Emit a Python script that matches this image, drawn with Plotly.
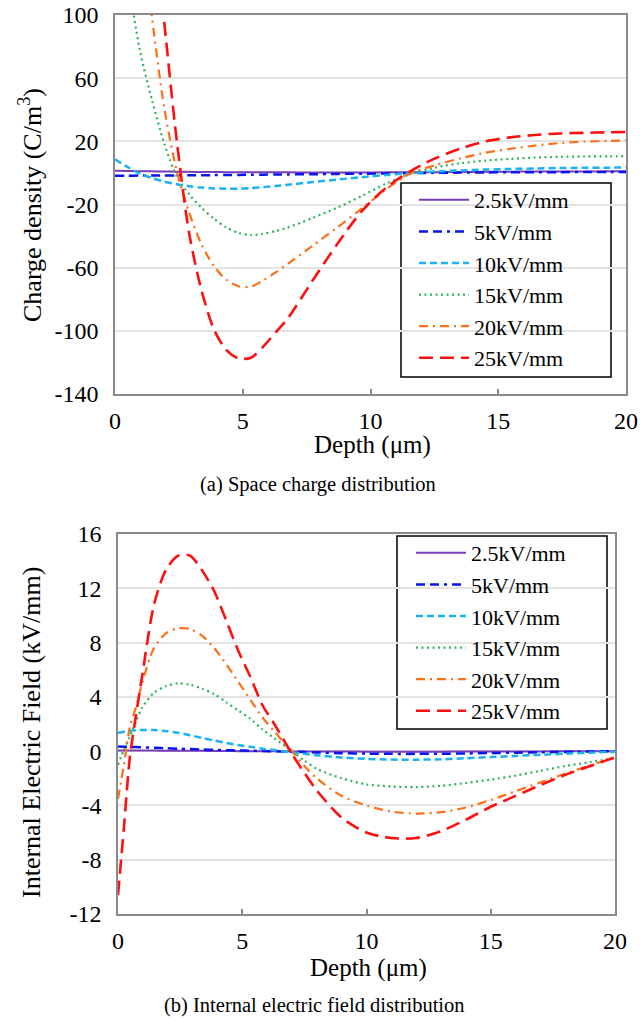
import plotly.graph_objects as go

# ---------------- data ----------------
depth_top = [0, 0.48, 0.97, 1.45, 1.93, 2.42, 2.9, 3.38, 3.87, 4.35, 4.84, 5.32, 5.8, 6.29, 6.77,
             7.74, 8.7, 9.67, 10.64, 11.6, 12.57, 13.54, 14.5, 15.47, 16.44, 17.4, 18.37, 19.34, 20]
rho_2_5 = [1.3, 1.2, 1.1, 1.0, 0.9, 0.8, 0.7, 0.6, 0.55, 0.5, 0.45, 0.4, 0.4, 0.35, 0.35,
           0.3, 0.3, 0.3, 0.35, 0.4, 0.5, 0.6, 0.7, 0.8, 0.85, 0.9, 0.95, 1.0, 1.0]
rho_5 = [-1.8, -1.75, -1.7, -1.65, -1.6, -1.55, -1.5, -1.45, -1.4, -1.3, -1.25, -1.2, -1.1, -1.0, -0.95,
         -0.8, -0.65, -0.5, -0.3, -0.1, 0.1, 0.2, 0.3, 0.4, 0.45, 0.5, 0.55, 0.6, 0.62]
rho_10 = [8.6, 3.8, -0.3, -3.3, -5.5, -7.2, -8.4, -9.3, -9.8, -10.0, -10.0, -9.6, -9.0, -8.3, -7.5,
          -5.8, -4.2, -2.7, -1.3, -0.1, 0.9, 1.6, 2.1, 2.5, 2.8, 3.1, 3.25, 3.35, 3.4]
rho_15 = [200, 128, 78, 46, 18.5, -2.5, -13.5, -22, -29, -34.5, -38, -39.3, -38.5, -36.8, -34.5,
          -28.5, -22, -14.5, -6.5, -0.5, 3.5, 6.2, 7.8, 8.9, 9.7, 10.2, 10.4, 10.5, 10.6]
rho_20 = [330, 240, 165, 98, 41, 1, -25, -45, -59, -67.5, -71.8, -72, -68, -63, -57.5,
          -46, -34.5, -22.5, -10, 0, 5, 9.3, 12.8, 15.3, 17.3, 18.9, 19.8, 20.3, 20.6]
rho_25 = [520, 390, 270, 170, 95, 20, -38, -74, -99, -112, -117.5, -117, -110, -101, -92,
          -68, -45, -24, -9, 1.5, 9.5, 15.5, 20, 22.5, 24, 25, 25.4, 25.7, 25.9]

depth_bot = [0, 0.24, 0.48, 0.73, 0.97, 1.45, 1.94, 2.42, 2.9, 3.39, 3.87, 4.36, 4.84, 5.32, 5.81,
             6.29, 7, 7.5, 8, 9, 10, 11, 12, 13, 14, 15, 16, 17, 18, 19, 20]
E_2_5 = [0.05, 0.05, 0.05, 0.04, 0.04, 0.04, 0.03, 0.03, 0.02, 0.02, 0.01, 0.01, 0.0, 0.0, -0.01,
         -0.01, -0.02, -0.02, -0.03, -0.03, -0.04, -0.04, -0.04, -0.04, -0.03, -0.03, -0.02,
         -0.02, -0.01, -0.01, 0.0]
E_5 = [0.35, 0.33, 0.31, 0.3, 0.28, 0.25, 0.21, 0.18, 0.15, 0.12, 0.1, 0.07, 0.05, 0.03, 0.01,
       -0.01, -0.04, -0.07, -0.1, -0.15, -0.18, -0.2, -0.2, -0.19, -0.17, -0.14, -0.11, -0.08,
       -0.06, -0.03, -0.01]
E_10 = [1.35, 1.43, 1.5, 1.54, 1.56, 1.55, 1.48, 1.35, 1.17, 0.97, 0.78, 0.6, 0.45, 0.32, 0.18,
        0.08, -0.1, -0.2, -0.3, -0.47, -0.57, -0.62, -0.63, -0.6, -0.52, -0.44, -0.35, -0.27,
        -0.19, -0.11, -0.05]
E_15 = [-1.0, 0.1, 1.1, 2.2, 3.2, 4.3, 4.8, 5.0, 4.9, 4.6, 4.2, 3.6, 3.0, 2.4, 1.6, 0.95, 0.0,
        -0.7, -1.3, -2.0, -2.45, -2.6, -2.65, -2.55, -2.35, -2.1, -1.8, -1.45, -1.1, -0.8, -0.5]
E_20 = [-3.5, -1.0, 1.8, 3.3, 5.0, 7.6, 8.7, 9.05, 9.0, 8.5, 7.6, 6.4, 5.1, 3.8, 2.5, 1.45, 0.0,
        -1.1, -2.0, -3.3, -4.0, -4.45, -4.6, -4.5, -4.15, -3.6, -2.95, -2.3, -1.65, -1.05, -0.45]
E_25 = [-10.6, -5.6, -0.4, 2.7, 5.5, 10.8, 13.4, 14.4, 14.4, 13.3, 11.8, 9.6, 7.4, 5.5, 3.4, 2.0,
        -0.2, -1.6, -2.9, -4.9, -6.0, -6.4, -6.4, -5.9, -5.05, -4.1, -3.3, -2.5, -1.75, -1.1, -0.45]

series_names = ["2.5kV/mm", "5kV/mm", "10kV/mm", "15kV/mm", "20kV/mm", "25kV/mm"]
x_ticks = [0, 5, 10, 15, 20]
y_ticks_top = [-140, -100, -60, -20, 20, 60, 100]
y_ticks_bot = [-12, -8, -4, 0, 4, 8, 12, 16]

# ---------------- styling ----------------
W, H = 643, 1021
FONT = "Liberation Serif, Times New Roman, serif"
colors = ["#7A3DB8", "#0A14F0", "#1AB2F0", "#2EB35C", "#FF6F1A", "#FF1010"]
dashes = ["solid", "9px,5px,9px,5px,3px,5px", "7px,4px", "2px,3.5px",
          "9px,5px,2px,5px", "14px,7px"]
widths = [2, 2.5, 2.5, 2.2, 2.2, 2.6]


def px_x(p):
    return p / W


def px_y(p):
    return 1 - p / H


fig = go.Figure()
top_vals = [rho_2_5, rho_5, rho_10, rho_15, rho_20, rho_25]
bot_vals = [E_2_5, E_5, E_10, E_15, E_20, E_25]
for i, name in enumerate(series_names):
    fig.add_trace(go.Scatter(
        x=depth_top, y=top_vals[i], name=name, mode="lines",
        line=dict(color=colors[i], dash=dashes[i], width=widths[i], shape="spline", smoothing=0.8),
        xaxis="x", yaxis="y", legend="legend"))
for i, name in enumerate(series_names):
    fig.add_trace(go.Scatter(
        x=depth_bot, y=bot_vals[i], name=name, mode="lines",
        line=dict(color=colors[i], dash=dashes[i], width=widths[i], shape="spline", smoothing=0.8),
        xaxis="x2", yaxis="y2", legend="legend2"))

base_axis = dict(showline=True, linecolor="#8a8a8a", linewidth=1.5, mirror=True,
                 tickcolor="#8a8a8a", tickwidth=1.5, automargin=False, ticklabeloverflow="allow",
                 tickfont=dict(family=FONT, size=24, color="black"), zeroline=False)
xaxis_style = dict(base_axis, ticks="inside", ticklen=5, showgrid=False, ticklabelstandoff=4)
yaxis_style = dict(base_axis, ticks="", showgrid=True, gridcolor="#e3e3e3", gridwidth=1.5,
                   ticklabelstandoff=10)

top_dom_x = [px_x(115), px_x(626)]
top_dom_y = [px_y(394), px_y(15)]
bot_dom_x = [px_x(118), px_x(615)]
bot_dom_y = [px_y(914), px_y(534)]

legend_style = dict(xanchor="left", yanchor="top", bgcolor="rgba(0,0,0,0)", borderwidth=0,
                    itemwidth=50, font=dict(family=FONT, size=22, color="black"))

fig.update_layout(
    width=W, height=H, margin=dict(l=0, r=0, t=0, b=0, autoexpand=False),
    paper_bgcolor="white", plot_bgcolor="white",
    font=dict(family=FONT, color="black"),
    xaxis=dict(xaxis_style, domain=top_dom_x, anchor="y", range=[0, 20], tickvals=x_ticks,
               ticktext=[str(v) for v in x_ticks]),
    yaxis=dict(yaxis_style, domain=top_dom_y, anchor="x", range=[-140, 100], tickvals=y_ticks_top,
               ticktext=[str(v) for v in y_ticks_top]),
    xaxis2=dict(xaxis_style, domain=bot_dom_x, anchor="y2", range=[0, 20], tickvals=x_ticks,
                ticktext=[str(v) for v in x_ticks]),
    yaxis2=dict(yaxis_style, domain=bot_dom_y, anchor="x2", range=[-12, 16], tickvals=y_ticks_bot,
                ticktext=[str(v) for v in y_ticks_bot]),
    legend=dict(legend_style, x=px_x(414), y=px_y(179)),
    legend2=dict(legend_style, x=px_x(411), y=px_y(532)),
    showlegend=True,
)

# legend frames
fig.add_shape(type="rect", xref="paper", yref="paper",
              x0=px_x(401), x1=px_x(611), y0=px_y(377), y1=px_y(183),
              line=dict(color="black", width=1.5), fillcolor="white", layer="below")
fig.add_shape(type="rect", xref="paper", yref="paper",
              x0=px_x(397), x1=px_x(607), y0=px_y(729), y1=px_y(536),
              line=dict(color="black", width=1.5), fillcolor="white", layer="below")

# axis titles and captions
ann = dict(xref="paper", yref="paper", showarrow=False, xanchor="center", yanchor="middle",
           font=dict(family=FONT, size=26, color="black"))
fig.add_annotation(text="Charge density (C/m<sup>3</sup>)", x=px_x(31), y=px_y(205), textangle=-90, **ann)
fig.add_annotation(text="Internal Electric Field (kV/mm)", x=px_x(31), y=px_y(733), textangle=-90, **ann)
xt = dict(ann)
xt["font"] = dict(family=FONT, size=25, color="black")
fig.add_annotation(text="Depth (μm)", x=px_x(372), y=px_y(445), **xt)
fig.add_annotation(text="Depth (μm)", x=px_x(368), y=px_y(968), **xt)
cap = dict(ann)
cap["font"] = dict(family=FONT, size=20.5, color="black")
fig.add_annotation(text="(a) Space charge distribution", x=px_x(318), y=px_y(484), **cap)
fig.add_annotation(text="(b) Internal electric field distribution", x=px_x(314), y=px_y(1005), **cap)

fig.write_html("out.html", config={"displayModeBar": False},
               post_script="document.body.style.margin='0';document.body.style.overflow='hidden';")
